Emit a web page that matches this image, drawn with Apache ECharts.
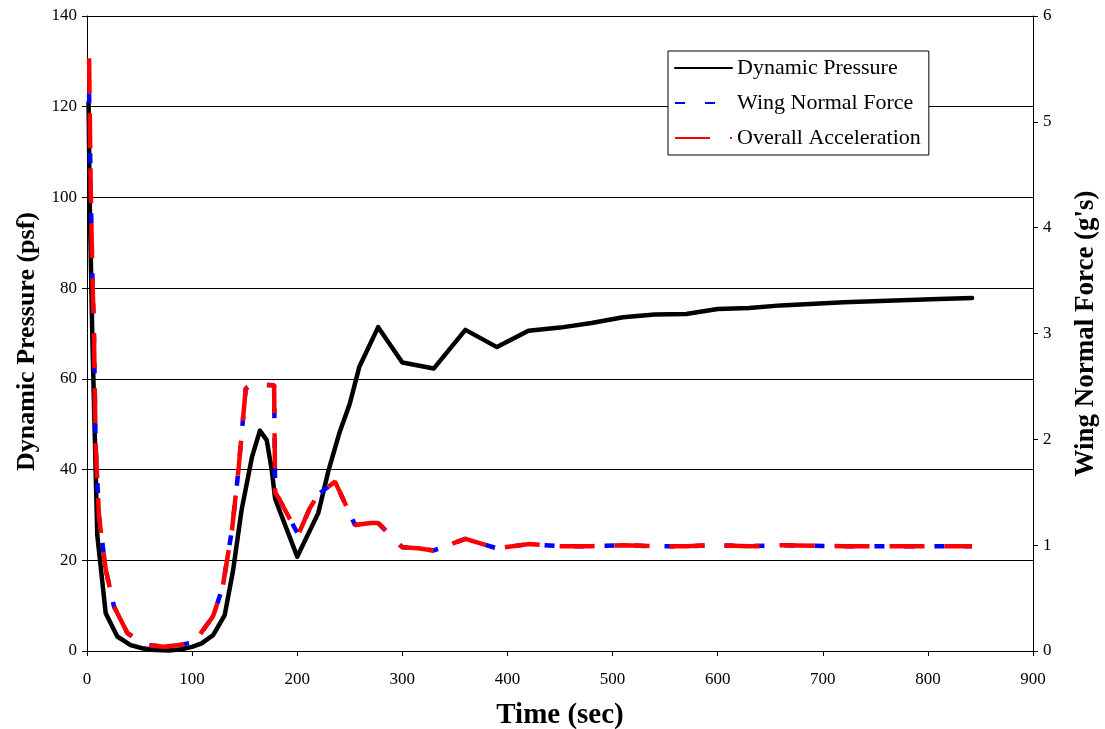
<!DOCTYPE html>
<html>
<head>
<meta charset="utf-8">
<script src="https://cdn.jsdelivr.net/npm/echarts@6/dist/echarts.min.js"></script>
<style>
  html, body { margin: 0; padding: 0; background: #fff; }
  #chart { width: 1105px; height: 729px; }
</style>
</head>
<body>
<div id="chart"></div>
<script>
// Flight trajectory: dynamic pressure (left axis) and load factors (right axis)
const pressureTime  = [1.5, 2.5, 5, 8.2, 9.8, 17.8, 28.8, 41.5, 52.5, 65, 78, 90, 100, 109, 120, 131, 139, 147, 157, 164.5, 171, 175.7, 179, 200, 220, 230, 240, 250, 259, 277, 300, 330, 360, 390, 420, 450, 480, 510, 540, 570, 600, 630, 660, 720, 810, 842];
const pressureValue = [121, 100, 70, 40, 25.5, 8.3, 3.2, 1.3, 0.6, 0.2, 0.1, 0.4, 0.9, 1.7, 3.5, 7.9, 17.8, 31, 42.8, 48.6, 46.5, 40, 33.5, 20.8, 30.4, 40, 48, 54.5, 62.6, 71.4, 63.6, 62.3, 70.8, 67, 70.6, 71.3, 72.3, 73.6, 74.2, 74.3, 75.4, 75.6, 76.2, 76.9, 77.6, 77.8];

const forceTime  = [2, 3.5, 5, 6.7, 8.2, 11.4, 17.8, 25.7, 38.4, 55, 73, 90, 100, 107, 120, 129, 138, 144, 151, 157, 178, 179, 182, 201, 212, 220, 236, 255, 270, 277, 300, 315, 330, 360, 390, 420, 450, 480, 510, 540, 570, 600, 630, 660, 720, 810, 842];
const forceValue = [5.27, 4.4, 3.6, 2.95, 1.95, 1.27, 0.77, 0.42, 0.17, 0.06, 0.04, 0.06, 0.08, 0.15, 0.33, 0.6, 1.15, 1.7, 2.48, 2.52, 2.51, 1.5, 1.45, 1.1, 1.35, 1.48, 1.6, 1.19, 1.21, 1.21, 0.98, 0.97, 0.95, 1.06, 0.97, 1.01, 0.99, 0.99, 1.0, 0.99, 0.99, 1.0, 0.99, 1.0, 0.99, 0.99, 0.99];

const accelTime  = [2, 3.5, 5, 6.7, 8.2, 11.4, 17.8, 25.7, 38.4, 55, 73, 90, 100, 107, 120, 129, 138, 144, 151, 157, 178, 179, 182, 201, 212, 220, 236, 255, 270, 277, 300, 315, 330, 360, 390, 420, 450, 480, 510, 540, 570, 600, 630, 660, 720, 810, 842];
const accelValue = [5.6, 4.4, 3.6, 2.95, 1.95, 1.27, 0.77, 0.42, 0.17, 0.06, 0.04, 0.06, 0.08, 0.15, 0.33, 0.6, 1.15, 1.7, 2.48, 2.52, 2.51, 1.5, 1.45, 1.1, 1.35, 1.48, 1.6, 1.19, 1.21, 1.21, 0.98, 0.97, 0.95, 1.06, 0.97, 1.01, 0.99, 0.99, 1.0, 0.99, 0.99, 1.0, 0.99, 1.0, 0.99, 0.99, 0.99];

const seriesNames = ['Dynamic Pressure', 'Wing Normal Force', 'Overall Acceleration'];
const xAxisTitle = 'Time (sec)';
const leftAxisTitle = 'Dynamic Pressure (psf)';
const rightAxisTitle = "Wing Normal Force (g's)";

const zip = (xs, ys) => xs.map((x, i) => [x, ys[i]]);
const serif = '"Liberation Serif", "DejaVu Serif", serif';

const chart = echarts.init(document.getElementById('chart'), null, { renderer: 'canvas' });

chart.setOption({
  backgroundColor: '#fff',
  animation: false,
  grid: { left: 87, right: 72, top: 16, bottom: 78, containLabel: false, outerBoundsMode: 'none' },
  legend: {
    orient: 'vertical',
    left: 668,
    top: 51,
    padding: [6, 8, 6, 6],
    itemWidth: 57,
    itemHeight: 10,
    itemGap: 13,
    backgroundColor: '#fff',
    borderColor: '#000',
    borderWidth: 1,
    borderRadius: 0,
    itemStyle: { opacity: 0 },
    textStyle: { fontFamily: serif, fontSize: 22, color: '#000', padding: [0, 0, 0, 0] },
    data: seriesNames
  },
  xAxis: {
    type: 'value',
    min: 0, max: 900, interval: 100,
    axisLine: { show: true, lineStyle: { color: '#000', width: 1 } },
    axisTick: { show: true, length: 5, lineStyle: { color: '#000' } },
    axisLabel: { fontFamily: serif, fontSize: 17, color: '#000', margin: 20 },
    splitLine: { show: false },
    name: xAxisTitle,
    nameLocation: 'middle',
    nameGap: 50,
    nameTextStyle: { fontFamily: serif, fontSize: 29, fontWeight: 'bold', color: '#000' }
  },
  yAxis: [
    {
      type: 'value',
      min: 0, max: 140, interval: 20,
      position: 'left',
      axisLine: { show: true, lineStyle: { color: '#000', width: 1 } },
      axisTick: { show: true, length: 5, lineStyle: { color: '#000' } },
      axisLabel: { fontFamily: serif, fontSize: 17, color: '#000', margin: 10 },
      splitLine: { show: true, lineStyle: { color: '#000', width: 1 } },
      name: leftAxisTitle,
      nameLocation: 'middle',
      nameRotate: 90,
      nameGap: 45,
      nameTextStyle: { fontFamily: serif, fontSize: 26, fontWeight: 'bold', color: '#000', padding: [0, 0, 0, -16] }
    },
    {
      type: 'value',
      min: 0, max: 6, interval: 1,
      position: 'right',
      axisLine: { show: true, lineStyle: { color: '#000', width: 1 } },
      axisTick: { show: true, length: 5, inside: false, lineStyle: { color: '#000' } },
      axisLabel: { fontFamily: serif, fontSize: 17, color: '#000', margin: 10 },
      splitLine: { show: false },
      name: rightAxisTitle,
      nameLocation: 'middle',
      nameRotate: 90,
      nameGap: 40,
      nameTextStyle: { fontFamily: serif, fontSize: 27, fontWeight: 'bold', color: '#000' }
    }
  ],
  series: [
    {
      name: seriesNames[0],
      type: 'line',
      yAxisIndex: 0,
      data: zip(pressureTime, pressureValue),
      symbol: 'none',
      itemStyle: { color: '#000' },
      lineStyle: { color: '#000', width: 4.5, type: 'solid', cap: 'round', join: 'round' },
      z: 2
    },
    {
      name: seriesNames[1],
      type: 'line',
      yAxisIndex: 1,
      data: zip(forceTime, forceValue),
      symbol: 'none',
      itemStyle: { color: '#0000ff' },
      lineStyle: { color: '#0000ff', width: 4.5, type: [10, 20], cap: 'butt' },
      z: 3
    },
    {
      name: seriesNames[2],
      type: 'line',
      yAxisIndex: 1,
      data: zip(accelTime, accelValue),
      symbol: 'none',
      itemStyle: { color: '#ff0000' },
      lineStyle: { color: '#ff0000', width: 4.5, type: [35, 20], cap: 'butt' },
      z: 4
    }
  ]
});
</script>
</body>
</html>
